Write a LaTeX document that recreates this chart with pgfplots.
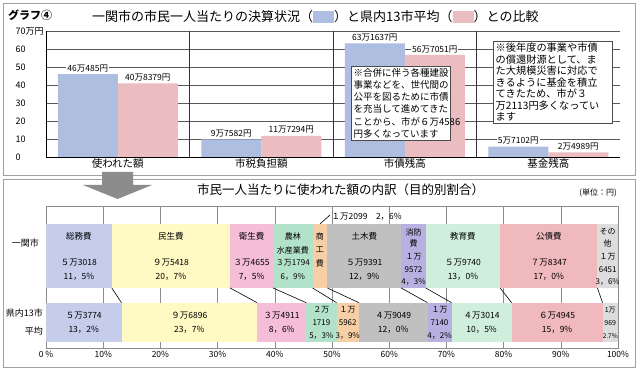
\documentclass[border=0pt]{standalone}
\usepackage{fontspec}
\setmainfont{Noto Sans CJK JP}
\usepackage{pgfplots}
\pgfplotsset{compat=1.18}
\definecolor{topblue}{HTML}{AEBEE1}
\definecolor{toppink}{HTML}{EBBCC0}
\definecolor{cSomu}{HTML}{C5CDEB}
\definecolor{cMinsei}{HTML}{FFF9C4}
\definecolor{cEisei}{HTML}{F6BDD8}
\definecolor{cNorin}{HTML}{B3E2CA}
\definecolor{cShoko}{HTML}{F7CFA6}
\definecolor{cDoboku}{HTML}{C0C0C0}
\definecolor{cShobo}{HTML}{B8B0E0}
\definecolor{cKyoiku}{HTML}{CFEEDB}
\definecolor{cKosai}{HTML}{F0B9BE}
\definecolor{cSonota}{HTML}{DDDDDD}
\definecolor{framegray}{HTML}{A0A0A0}
\definecolor{arrowgray}{HTML}{8C8C8C}
\newcommand\fs[1]{\fontsize{#1}{#1}\selectfont}
\newcommand\lab[3]{\node[font=\fs{8.5}, inner sep=0] at (axis cs:#1,#2) {#3};}
\newcommand\labs[3]{\node[font=\fs{8}, inner sep=0] at (axis cs:#1,#2) {#3};}
\pgfplotsset{bottomaxis/.style={at={(46pt,24pt)}, anchor=south west, scale only axis, width=572pt, height=141.3pt,
 xmin=0, xmax=100, ymin=0, ymax=141.3}}
\begin{document}
\begin{tikzpicture}
\useasboundingbox (0pt,0pt) rectangle (640pt,372pt);
\fill[white] (0pt,0pt) rectangle (640pt,372pt);
\draw[framegray, line width=0.8pt] (3pt,369pt) rectangle (635pt,197pt);
\draw[framegray, line width=0.8pt] (3pt,193pt) rectangle (635pt,5pt);
\node[anchor=west, font=\fs{11}\bfseries, inner sep=0] at (8pt,357pt) {グラフ④};
\node[anchor=west, font=\fs{13}, inner sep=0] at (92pt,355pt) {一関市の市民一人当たりの決算状況（\textcolor{topblue}{\rule[-1.5pt]{21pt}{12pt}}）と県内13市平均（\textcolor{toppink}{\rule[-1.5pt]{21pt}{12pt}}）との比較};

\begin{axis}[at={(46pt,215pt)}, anchor=south west, scale only axis, width=574pt, height=126pt,
  xmin=0, xmax=4, ymin=0, ymax=70,
  axis lines=left, axis line style={-, black, line width=0.6pt},
  ybar=0pt, bar width=60pt,
  ytick={0,10,...,70}, yticklabels={0,10,20,30,40,50,60,70万円},
  yticklabel style={font=\fs{9}, anchor=west, xshift=-34pt},
  xtick={0.5,1.5,2.5,3.5}, xticklabels={使われた額,市税負担額,市債残高,基金残高},
  xticklabel style={font=\fs{10.5}, yshift=2pt},
  major tick length=0pt,
  ymajorgrids, grid style={black!65, line width=0.5pt},
  extra x ticks={1,2,3}, extra x tick labels={},
  extra x tick style={grid=major, major grid style={black!80, line width=0.6pt}},
  nodes near coords, point meta=explicit symbolic,
  every node near coord/.append style={font=\fs{8.5}, fill=white, inner sep=1pt, yshift=1pt},
]
\addplot[fill=topblue, draw=none] coordinates {(0.5,46.0485)[46万485円] (1.5,9.7582)[9万7582円] (2.5,63.1637)[63万1637円] (3.5,5.7102)[5万7102円]};
\addplot[fill=toppink, draw=none] coordinates {(0.5,40.8379)[40万8379円] (1.5,11.7294)[11万7294円] (2.5,56.7051)[56万7051円] (3.5,2.4989)[2万4989円]};
\end{axis}

\node[draw=black!70, fill=white, anchor=north west, align=left, inner xsep=2.5pt, inner ysep=2pt, text width=94pt, font=\fontsize{9.5}{12.2}\selectfont] at (351pt,306pt) {※合併に伴う各種建設\\事業などを、世代間の\\公平を図るために市債\\を充当して進めてきた\\ことから、市が６万4586\\円多くなっています};
\node[draw=black!70, fill=white, anchor=north west, align=left, inner xsep=2.5pt, inner ysep=2pt, text width=114pt, font=\fontsize{10.2}{11.5}\selectfont] at (493pt,331pt) {※後年度の事業や市債\\の償還財源として、ま\\た大規模災害に対応で\\きるように基金を積立\\てきたため、市が３\\万2113円多くなってい\\ます};

\fill[arrowgray] (102pt,200pt) -- (133pt,200pt) -- (133pt,187pt) -- (152pt,187pt) -- (117.5pt,173pt) -- (83pt,187pt) -- (102pt,187pt) -- cycle;
\node[anchor=west, font=\fs{12.5}, inner sep=0] at (197pt,182pt) {市民一人当たりに使われた額の内訳（目的別割合）};
\node[anchor=east, font=\fs{8}, inner sep=0] at (617pt,179pt) {(単位：円)};
\node[anchor=east, font=\fs{9}, inner sep=0] at (39pt,129pt) {一関市};
\node[anchor=east, font=\fs{9}, inner sep=0] at (43pt,59pt) {県内13市};
\node[anchor=east, font=\fs{9}, inner sep=0] at (43pt,41pt) {平均};

% 一関市
\begin{axis}[bottomaxis,
 xtick={0,10,...,100}, xticklabels={0 \%,10\%,20\%,30\%,40\%,50\%,60\%,70\%,80\%,90\%,100\%},
 xticklabel style={font=\fs{8.5}},
 ytick=\empty, major tick length=0pt,
 xmajorgrids, grid style={black!45, line width=0.6pt},
 axis line style={black!45, line width=0.6pt},
 xbar stacked, bar width=64pt,
]
\addplot[fill=cSomu, draw=none] coordinates {(11.5,92)};
\addplot[fill=cMinsei, draw=none] coordinates {(20.7,92)};
\addplot[fill=cEisei, draw=none] coordinates {(7.5,92)};
\addplot[fill=cNorin, draw=none] coordinates {(6.9,92)};
\addplot[fill=cShoko, draw=none] coordinates {(2.6,92)};
\addplot[fill=cDoboku, draw=none] coordinates {(12.9,92)};
\addplot[fill=cShobo, draw=none] coordinates {(4.3,92)};
\addplot[fill=cKyoiku, draw=none] coordinates {(13.0,92)};
\addplot[fill=cKosai, draw=none] coordinates {(17.0,92)};
\addplot[fill=cSonota, draw=none] coordinates {(3.6,92)};
\end{axis}

% 県内13市平均
\begin{axis}[bottomaxis, hide axis, xbar stacked, bar width=39pt]
\addplot[fill=cSomu, draw=none] coordinates {(13.2,25.8)};
\addplot[fill=cMinsei, draw=none] coordinates {(23.7,25.8)};
\addplot[fill=cEisei, draw=none] coordinates {(8.6,25.8)};
\addplot[fill=cNorin, draw=none] coordinates {(5.3,25.8)};
\addplot[fill=cShoko, draw=none] coordinates {(3.9,25.8)};
\addplot[fill=cDoboku, draw=none] coordinates {(12.0,25.8)};
\addplot[fill=cShobo, draw=none] coordinates {(4.2,25.8)};
\addplot[fill=cKyoiku, draw=none] coordinates {(10.5,25.8)};
\addplot[fill=cKosai, draw=none] coordinates {(15.9,25.8)};
\addplot[fill=cSonota, draw=none] coordinates {(2.7,25.8)};
\end{axis}

\begin{axis}[bottomaxis, hide axis]
\addplot[black, line width=0.6pt, no marks] coordinates {(11.5,60) (13.2,45.3)};
\addplot[black, line width=0.6pt, no marks] coordinates {(32.2,60) (36.9,45.3)};
\addplot[black, line width=0.6pt, no marks] coordinates {(39.7,60) (45.5,45.3)};
\addplot[black, line width=0.6pt, no marks] coordinates {(46.6,60) (50.8,45.3)};
\addplot[black, line width=0.6pt, no marks] coordinates {(49.2,60) (54.7,45.3)};
\addplot[black, line width=0.6pt, no marks] coordinates {(62.1,60) (66.7,45.3)};
\addplot[black, line width=0.6pt, no marks] coordinates {(66.4,60) (70.9,45.3)};
\addplot[black, line width=0.6pt, no marks] coordinates {(79.4,60) (81.4,45.3)};
\addplot[black, line width=0.6pt, no marks] coordinates {(96.4,60) (97.3,45.3)};
\addplot[black, line width=0.6pt, no marks] coordinates {(47.9,124) (49.65,133)};
\node[anchor=west, font=\fs{8.5}, inner sep=0] at (axis cs:49.9,131) {１万2099　2，6\%};
% row 1
\lab{5.75}{112}{総務費}\lab{5.75}{85}{５万3018}\lab{5.75}{71}{11，5\%}
\lab{21.85}{112}{民生費}\lab{21.85}{85}{９万5418}\lab{21.85}{71}{20，7\%}
\lab{35.95}{112}{衛生費}\lab{35.95}{85}{３万4655}\lab{35.95}{71}{7，5\%}
\labs{43.15}{112}{農林}\labs{43.15}{98}{水産業費}\labs{43.15}{85}{３万1794}\labs{43.15}{71}{6，9\%}
\labs{47.9}{112}{商}\labs{47.9}{98}{工}\labs{47.9}{85}{費}
\lab{55.65}{112}{土木費}\lab{55.65}{85}{５万9391}\lab{55.65}{71}{12，9\%}
\labs{64.25}{116}{消防}\labs{64.25}{105}{費}\labs{64.25}{91}{１万}\labs{64.25}{78}{9572}\labs{64.25}{66}{4，3\%}
\lab{72.9}{112}{教育費}\lab{72.9}{85}{５万9740}\lab{72.9}{71}{13，0\%}
\lab{87.9}{112}{公債費}\lab{87.9}{85}{７万8347}\lab{87.9}{71}{17，0\%}
\labs{98.2}{116}{その}\labs{98.2}{105}{他}\labs{98.2}{91}{１万}\labs{98.2}{78}{6451}\labs{98.2}{66}{3，6\%}
% row 2
\lab{6.6}{32}{５万3774}\lab{6.6}{18}{13，2\%}
\lab{25.05}{32}{９万6896}\lab{25.05}{18}{23，7\%}
\lab{41.2}{32}{３万4911}\lab{41.2}{18}{8，6\%}
\labs{48.15}{38}{２万}\labs{48.15}{25}{1719}\labs{48.15}{12}{5，3\%}
\labs{52.75}{38}{１万}\labs{52.75}{25}{5962}\labs{52.75}{12}{3，9\%}
\lab{60.7}{32}{４万9049}\lab{60.7}{18}{12，0\%}
\labs{68.8}{38}{１万}\labs{68.8}{25}{7140}\labs{68.8}{12}{4，2\%}
\lab{76.15}{32}{４万3014}\lab{76.15}{18}{10，5\%}
\lab{89.35}{32}{６万4945}\lab{89.35}{18}{15，9\%}
\node[font=\fs{7}, inner sep=0] at (axis cs:98.65,38) {1万};
\node[font=\fs{7}, inner sep=0] at (axis cs:98.65,25) {969};
\node[font=\fs{6.5}, inner sep=0] at (axis cs:98.65,12) {2.7\%};
\end{axis}
\end{tikzpicture}
\end{document}
